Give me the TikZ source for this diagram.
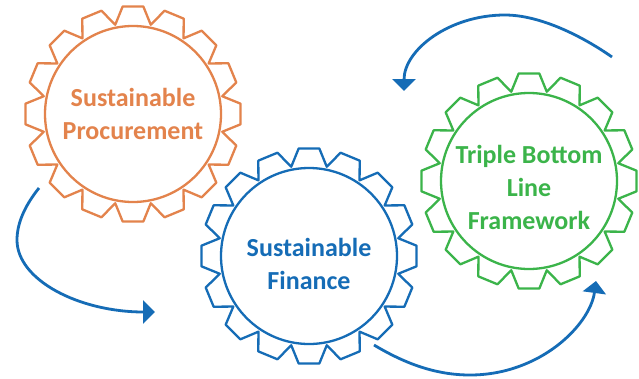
\documentclass[tikz,border=0pt]{standalone}
\usepackage{fontspec}
\setmainfont{Carlito}
\usetikzlibrary{arrows.meta}
\definecolor{gorange}{HTML}{E3834C}
\definecolor{gblue}{HTML}{156CB6}
\definecolor{ggreen}{HTML}{3BB44A}
\newcommand{\gearoutline}[2]{%
  \draw[gearline, draw=#2, shift={#1}] (90-11.25:91)
    \foreach \i in {0,...,15}{ -- ({90-5.5+\i*22.5}:108) -- ({90+5.5+\i*22.5}:108) -- ({90+11.25+\i*22.5}:91)} -- cycle;
  \draw[gearline, draw=#2, shift={#1}] (0,0) circle (88);
}
\begin{document}
\begin{tikzpicture}[x=1pt,y=-1pt,
  gearline/.style={line width=2.3pt, line join=round},
  gtext/.style={font=\fontsize{26}{33}\selectfont\bfseries, align=center, inner sep=0pt},
  flow/.style={draw=gblue, line width=2.8pt, -{Triangle[width=23pt,length=12pt]}}]
\useasboundingbox (0,0) rectangle (639,378);
\fill[white] (0,0) rectangle (639,378);
% gears
\gearoutline{(133,114)}{gorange}
\gearoutline{(309,256)}{gblue}
\gearoutline{(529,181)}{ggreen}
% labels
\node[gtext, text=gorange] (proc) at (133,113.5) {Sustainable\\Procurement};
\node[gtext, text=gblue] (fin) at (309,264) {Sustainable\\Finance};
\node[gtext, text=ggreen] (tbl) at (529,187.5) {Triple Bottom\\Line\\Framework};
% arrows
\coordinate (a1s) at (39,188);
\coordinate (a1m) at (17,240);
\coordinate (a1e) at (155,312);
\draw[flow] (a1s) .. controls (27,203) and (17,221) .. (a1m) .. controls (17,280) and (79,312) .. (a1e);
\coordinate (a2s) at (374,345);
\coordinate (a2m) at (470,375);
\coordinate (a2e) at (596,281);
\draw[flow] (a2s) .. controls (404,363) and (435,375) .. (a2m) .. controls (540,375) and (590,325) .. (a2e);
\coordinate (a3s) at (612,57);
\coordinate (a3m) at (505,15);
\coordinate (a3e) at (404,91);
\draw[flow] (a3s) .. controls (582,36) and (540,15) .. (a3m) .. controls (449,15) and (404,50) .. (a3e);
\end{tikzpicture}
\end{document}
